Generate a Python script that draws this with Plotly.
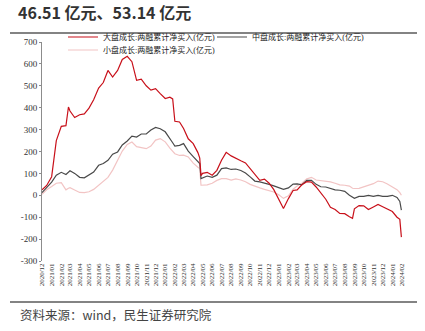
import plotly.graph_objects as go

# 日期与两融累计净买入（亿元）
dates = [
    "2020-12-01", "2020-12-16", "2021-01-01", "2021-01-16", "2021-02-01", "2021-02-16",
    "2021-02-24", "2021-03-01", "2021-03-16", "2021-04-01", "2021-04-16", "2021-05-01",
    "2021-05-16", "2021-06-01", "2021-06-16", "2021-07-01", "2021-07-16", "2021-08-01",
    "2021-08-16", "2021-09-01", "2021-09-16", "2021-10-01", "2021-10-16", "2021-11-01",
    "2021-11-16", "2021-12-01", "2021-12-16", "2022-01-01", "2022-01-16", "2022-01-25",
    "2022-02-01", "2022-02-16", "2022-03-01", "2022-03-16", "2022-04-01", "2022-04-16",
    "2022-04-22", "2022-04-26", "2022-05-01", "2022-05-16", "2022-06-01", "2022-06-16",
    "2022-07-01", "2022-07-16", "2022-08-01", "2022-08-16", "2022-09-01", "2022-09-16",
    "2022-10-01", "2022-10-16", "2022-11-01", "2022-11-16", "2022-12-01", "2022-12-16",
    "2023-01-01", "2023-01-16", "2023-02-01", "2023-02-16", "2023-03-01", "2023-03-16",
    "2023-04-01", "2023-04-16", "2023-05-01", "2023-05-16", "2023-06-01", "2023-06-16",
    "2023-07-01", "2023-07-16", "2023-08-01", "2023-08-16", "2023-08-26", "2023-09-01",
    "2023-09-16", "2023-10-01", "2023-10-16", "2023-11-01", "2023-11-16", "2023-12-01",
    "2023-12-16", "2024-01-01", "2024-01-16", "2024-01-25", "2024-01-30",
]

large_growth = [
    25, 45, 85, 250, 315, 318, 403, 385, 355, 368, 372, 398,
    436, 490, 515, 570, 540, 570, 620, 635, 610, 525, 530, 500,
    480, 487, 464, 442, 448, 440, 338, 335, 305, 258, 236, 195,
    170, 90, 100, 105, 92, 114, 160, 196, 180, 168, 158, 148,
    122, 100, 68, 74, 55, 26, -15, -60, -15, 22, 25, 48,
    62, 60, 38, 10, -18, -55, -65, -83, -84, -98, -105, -62,
    -47, -48, -65, -53, -42, -52, -63, -74, -100, -110, -191,
]

mid_growth = [
    12, 35, 60, 92, 105, 95, 105, 112, 100, 82, 80, 92,
    106, 137, 145, 160, 188, 198, 230, 248, 270, 266, 280, 280,
    298, 310, 304, 290, 262, 240, 225, 228, 236, 202, 177, 155,
    145, 76, 79, 88, 82, 92, 122, 125, 118, 120, 113, 102,
    84, 65, 61, 57, 50, 43, 35, 27, 34, 51, 52, 48,
    68, 68, 50, 39, 38, 32, 25, 23, 18, 0, -10, -14,
    -5, -5, 0, -5, 0, -5, -5, 0, -10, -28, -68,
]

small_growth = [
    5, 25, 40, 55, 58, 25, 32, 35, 24, 13, 12, 16,
    27, 46, 60, 82, 115, 158, 202, 232, 243, 222, 218, 213,
    225, 252, 259, 244, 215, 200, 190, 182, 183, 175, 147, 128,
    122, 46, 46, 48, 55, 68, 76, 76, 69, 75, 70, 62,
    50, 41, 34, 27, 22, 15, 2, -14, -2, 28, 42, 55,
    75, 82, 70, 68, 64, 61, 55, 48, 46, 42, 32, 31,
    32, 39, 46, 53, 65, 62, 52, 40, 26, 12, 0,
]

series_names = [
    "大盘成长:两融累计净买入(亿元)",
    "中盘成长:两融累计净买入(亿元)",
    "小盘成长:两融累计净买入(亿元)",
]
series_colors = ["#C8101A", "#4A4A4A", "#F2C4C4"]

month_ticks = [
    "2020-12-01", "2021-01-01", "2021-02-01", "2021-03-01", "2021-04-01", "2021-05-01",
    "2021-06-01", "2021-07-01", "2021-08-01", "2021-09-01", "2021-10-01", "2021-11-01",
    "2021-12-01", "2022-01-01", "2022-02-01", "2022-03-01", "2022-04-01", "2022-05-01",
    "2022-06-01", "2022-07-01", "2022-08-01", "2022-09-01", "2022-10-01", "2022-11-01",
    "2022-12-01", "2023-01-01", "2023-02-01", "2023-03-01", "2023-04-01", "2023-05-01",
    "2023-06-01", "2023-07-01", "2023-08-01", "2023-09-01", "2023-10-01", "2023-11-01",
    "2023-12-01", "2024-01-01", "2024-02-01",
]
month_labels = [d[:4] + "/" + d[5:7] for d in month_ticks]

y_ticks = [700, 600, 500, 400, 300, 200, 100, 0, -100, -200, -300]
y_labels = ["700", "600", "500", "400", "300", "200", "100", "0", "-100", "-200", "-300"]

title_text = "46.51 亿元、53.14 亿元"
source_text = "资料来源：wind，民生证券研究院"

serif = "Liberation Serif, Noto Sans CJK SC, serif"
cjk = "Noto Sans CJK SC, sans-serif"

fig = go.Figure()
series = [large_growth, mid_growth, small_growth]
legend_ids = ["legend", "legend2", "legend3"]
draw_order = [2, 1, 0]
for i in draw_order:
    fig.add_trace(go.Scatter(
        x=dates, y=series[i], mode="lines", name=series_names[i],
        line=dict(color=series_colors[i], width=1.2),
        legend=legend_ids[i], showlegend=True,
    ))

x_range = ["2020-12-01", "2024-02-01"]

legend_common = dict(
    orientation="h", bgcolor="rgba(0,0,0,0)", borderwidth=0,
    font=dict(family=serif, size=8, color="#222"),
    xanchor="left", yanchor="middle", itemwidth=30,
)

fig.update_layout(
    width=425, height=331,
    margin=dict(l=42, r=23, t=42, b=70),
    paper_bgcolor="white", plot_bgcolor="white",
    showlegend=True,
    legend=dict(x=(63 - 42) / 360, y=1 + (42 - 37) / 219, **legend_common),
    legend2=dict(x=(212 - 42) / 360, y=1 + (42 - 37) / 219, **legend_common),
    legend3=dict(x=(63 - 42) / 360, y=1 + (42 - 50) / 219, **legend_common),
    xaxis=dict(
        type="date", range=x_range, tickmode="array",
        tickvals=month_ticks, ticktext=month_labels, tickangle=-90,
        tickfont=dict(family=serif, size=7, color="#333"),
        showgrid=False, zeroline=False, showline=False, ticks="",
    ),
    xaxis2=dict(
        type="date", range=x_range, overlaying="x", anchor="free", position=0.3,
        tickmode="array", tickvals=month_ticks, showticklabels=False,
        showline=True, linecolor="#8C8C8C", linewidth=1,
        ticks="outside", ticklen=3, tickcolor="#8C8C8C",
        showgrid=False, zeroline=False,
    ),
    yaxis=dict(
        range=[-300, 700], tickmode="array", tickvals=y_ticks, ticktext=y_labels,
        tickfont=dict(family=serif, size=9, color="#333"),
        showgrid=False, zeroline=False, showline=True, linecolor="#8C8C8C",
        linewidth=1, ticks="outside", ticklen=2, tickcolor="#8C8C8C",
    ),
)

# 标题、分隔线与资料来源
fig.add_annotation(text="<b>" + title_text + "</b>", xref="paper", yref="paper",
                   x=-26 / 360, y=1 + (42 - 12.5) / 219, xanchor="left", yanchor="middle",
                   showarrow=False, font=dict(family=cjk, size=16, color="#333"))
fig.add_annotation(text=source_text, xref="paper", yref="paper",
                   x=-24 / 360, y=-(314 - 261) / 219, xanchor="left", yanchor="middle",
                   showarrow=False, font=dict(family=cjk, size=12.5, color="#444"))
fig.add_shape(type="line", xref="paper", yref="paper",
              x0=-32 / 360, x1=(417 - 42) / 360,
              y0=1 + (42 - 33) / 219, y1=1 + (42 - 33) / 219,
              line=dict(color="#5A5A5A", width=1.6))
fig.add_shape(type="line", xref="paper", yref="paper",
              x0=-32 / 360, x1=(417 - 42) / 360,
              y0=-(302 - 261) / 219, y1=-(302 - 261) / 219,
              line=dict(color="#5A5A5A", width=1.6))

fig.write_html("out.html")
